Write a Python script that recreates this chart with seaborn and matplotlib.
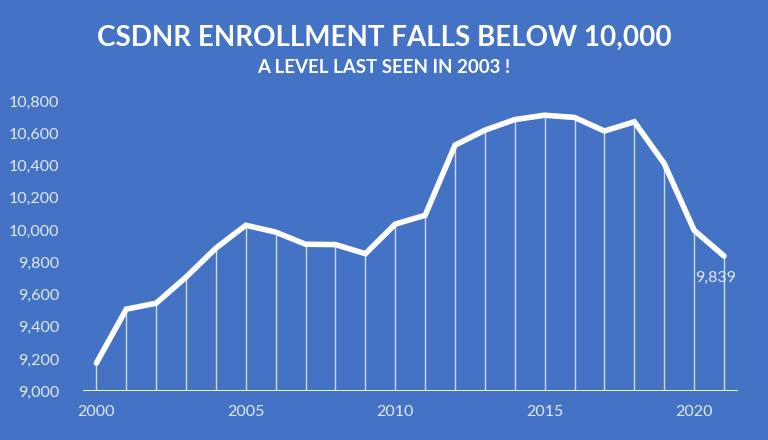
import matplotlib
matplotlib.use("Agg")
import matplotlib.pyplot as plt
import seaborn as sns
import pandas as pd

# Enrollment data
years = list(range(2000, 2022))
enrollment = [9174, 9509, 9546, 9708, 9888, 10030, 9987, 9912, 9910, 9853,
              10037, 10092, 10527, 10620, 10686, 10713, 10699, 10615, 10672,
              10413, 9999, 9839]
y_ticks = [9000, 9200, 9400, 9600, 9800, 10000, 10200, 10400, 10600, 10800]
x_ticks = [2000, 2005, 2010, 2015, 2020]

TITLE = "CSDNR ENROLLMENT FALLS BELOW 10,000"
SUBTITLE = "A LEVEL LAST SEEN IN 2003 !"

BG = "#4472C4"
TXT = "#E4EAF5"

sns.set_theme(style="white")
plt.rcParams['font.family'] = ['Lato', 'DejaVu Sans']

df = pd.DataFrame({'year': years, 'enrollment': enrollment})

fig = plt.figure(figsize=(7.68, 4.40), dpi=100, facecolor=BG)
ax = fig.add_axes([0.108, 0.111, 0.853, 0.659])
ax.set_facecolor(BG)

# drop lines from axis to each point
ax.vlines(df['year'], y_ticks[0], df['enrollment'], color='white', alpha=0.75, lw=1.0, zorder=1)
ax.axhline(y_ticks[0], color='white', lw=2.0, zorder=3)

sns.lineplot(x='year', y='enrollment', data=df, ax=ax, color='white', lw=4.0,
             solid_joinstyle='miter', zorder=4)

# last value label
ax.annotate(f"{enrollment[-1]:,}", (years[-1], enrollment[-1]), xytext=(-6, -16),
            textcoords='offset points', ha='center', va='center',
            color=TXT, fontsize=11.5)

ax.set_xlim(years[0] - 0.45, years[-1] + 0.47)
ax.set_ylim(y_ticks[0], y_ticks[-1])
ax.set_xticks(x_ticks)
ax.set_xticklabels([str(x) for x in x_ticks])
ax.set_yticks(y_ticks)
ax.set_yticklabels([f"{v:,}" for v in y_ticks])
ax.tick_params(axis='both', colors=TXT, labelsize=11.5, length=0)
ax.tick_params(axis='y', pad=17)
ax.tick_params(axis='x', pad=10)
ax.set_xlabel('')
ax.set_ylabel('')
for s in ax.spines.values():
    s.set_visible(False)

fig.text(0.5, 0.915, TITLE, ha='center', va='center', color='white',
         fontsize=20, fontweight='bold')
fig.text(0.5, 0.846, SUBTITLE, ha='center', va='center', color='white',
         fontsize=13.5, fontweight='bold')

fig.savefig("out.png", dpi=100, facecolor=BG)
